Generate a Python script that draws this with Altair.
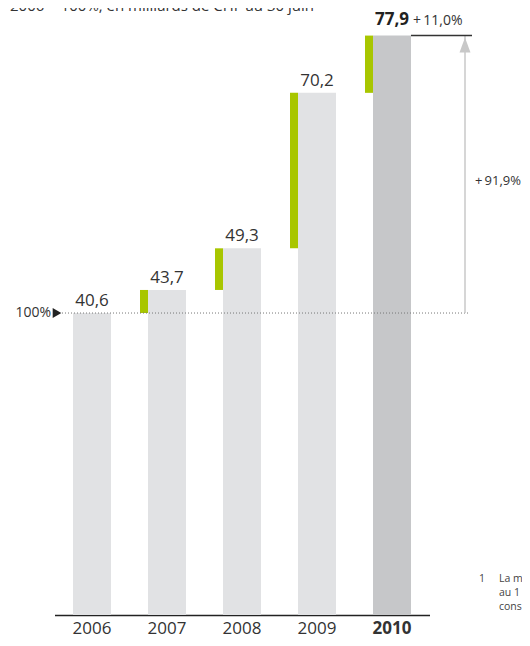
import altair as alt
import pandas as pd

years = ["2006", "2007", "2008", "2009", "2010"]
values = [40.6, 43.7, 49.3, 70.2, 77.9]
prev_values = [None, 40.6, 43.7, 49.3, 70.2]
value_labels = ["40,6", "43,7", "49,3", "70,2", "77,9"]
total_change = "+\u200991,9%"
last_change = "+\u200911,0%"
base_label = "100%"
subtitle = "2006 = 100%, en milliards de CHF au 30 juin"
footnote_num = "1"
footnote_lines = ["La m", "au 1", "cons"]

FONT = "Open Sans"
W, H = 514, 630
BASE_Y = 607  # pixel row of value 0

df = pd.DataFrame({"year": years, "value": values, "prev": prev_values, "label": value_labels})
df_green = df.dropna(subset=["prev"])
df_main_labels = df[df.year != "2010"]
df_last = df[df.year == "2010"]

xs = alt.Scale(domain=years, range=[46.5, 421.5], paddingInner=0.4933, paddingOuter=0.24665)
ys = alt.Scale(domain=[0, BASE_Y / 7.438], range=[BASE_Y, 0], nice=False, zero=True)

x_enc = alt.X("year:N", scale=xs, sort=years,
              axis=alt.Axis(title=None, orient="bottom", offset=-(H - BASE_Y), domainColor="#222",
                            domainWidth=1.5, ticks=False, labelFontSize=17, labelColor="#333",
                            labelFont=FONT, labelPadding=5, labelAngle=0,
                            labelFontWeight=alt.ExprRef("datum.value == '2010' ? 'bold' : 'normal'")))


def yq(field):
    return alt.Y(field, scale=ys, axis=None)


bars = alt.Chart(df).mark_bar().encode(
    x=x_enc,
    y=yq("value:Q"),
    color=alt.condition(alt.datum.year == "2010", alt.value("#c6c7c9"), alt.value("#e1e2e4")),
)

green = alt.Chart(df_green).mark_bar(width=8, xOffset=-23, color="#a8c600").encode(
    x=x_enc, y=yq("value:Q"), y2="prev:Q",
)

labels = alt.Chart(df_main_labels).mark_text(
    fontSize=17, font=FONT, color="#333", baseline="alphabetic", dy=-7
).encode(x=x_enc, y=yq("value:Q"), text="label:N")

last_label = alt.Chart(df_last).mark_text(
    fontSize=17, font=FONT, fontWeight="bold", color="#222", baseline="alphabetic",
    align="right", dx=17, dy=-11
).encode(x=x_enc, y=yq("value:Q"), text="label:N")

last_pct = alt.Chart(df_last).mark_text(
    fontSize=14, font=FONT, color="#333", baseline="alphabetic", align="left", dx=21, dy=-11
).encode(x=x_enc, y=yq("value:Q"), text=alt.value(last_change))

ref = alt.Chart(pd.DataFrame({"v": [values[0]]}))
dotted = ref.mark_rule(color="#777", strokeDash=[1, 2], strokeWidth=1).encode(
    y=yq("v:Q"), x=alt.value(54), x2=alt.value(462))
tri = ref.mark_point(shape="triangle-right", filled=True, color="#222", size=100, opacity=1).encode(
    y=yq("v:Q"), x=alt.value(49))
base_txt = ref.mark_text(fontSize=14, font=FONT, color="#333", align="right", baseline="middle").encode(
    y=yq("v:Q"), x=alt.value(43), text=alt.value(base_label))

span = alt.Chart(pd.DataFrame({"lo": [values[0]], "hi": [values[-1]], "mid": [(values[0] + values[-1]) / 2]}))
arrow_line = span.mark_rule(color="#c8c8c8", strokeWidth=1.5).encode(
    x=alt.value(457), y=yq("lo:Q"), y2="hi:Q")
arrow_head = span.mark_point(shape="M0,-1L0.73,1L-0.73,1Z", filled=True, color="#c8c8c8",
                             size=225, opacity=1, yOffset=9.5).encode(
    x=alt.value(457), y=yq("hi:Q"))
top_line = span.mark_rule(color="#333", strokeWidth=1.5).encode(
    x=alt.value(403), x2=alt.value(464), y=yq("hi:Q"))
total_txt = span.mark_text(fontSize=13, font=FONT, color="#333", align="right", baseline="middle", dy=7).encode(
    x=alt.value(513), y=yq("mid:Q"), text=alt.value(total_change))

title_txt = alt.Chart(pd.DataFrame({"t": [subtitle]})).mark_text(
    fontSize=15, font=FONT, color="#333", align="left", baseline="alphabetic"
).encode(x=alt.value(2), y=alt.value(3), text="t:N")

fn_txt = alt.Chart(pd.DataFrame({"t": ["\n".join(footnote_lines)]})).mark_text(
    fontSize=10.5, font=FONT, color="#444", align="left", baseline="alphabetic",
    lineBreak="\n", lineHeight=14
).encode(x=alt.value(491), y=alt.value(574), text="t:N")
fn_num = alt.Chart(pd.DataFrame({"t": [footnote_num]})).mark_text(
    fontSize=10.5, font=FONT, color="#444", align="left", baseline="alphabetic"
).encode(x=alt.value(471), y=alt.value(574), text="t:N")

chart = alt.layer(
    bars, green, labels, last_label, last_pct, dotted, tri, base_txt,
    arrow_line, arrow_head, top_line, total_txt, title_txt, fn_txt, fn_num
).properties(
    width=W, height=H, padding=0, autosize=alt.AutoSizeParams(type="none")
).configure_view(stroke=None)

chart.save("out.html", embed_options={"renderer": "svg", "actions": False})
